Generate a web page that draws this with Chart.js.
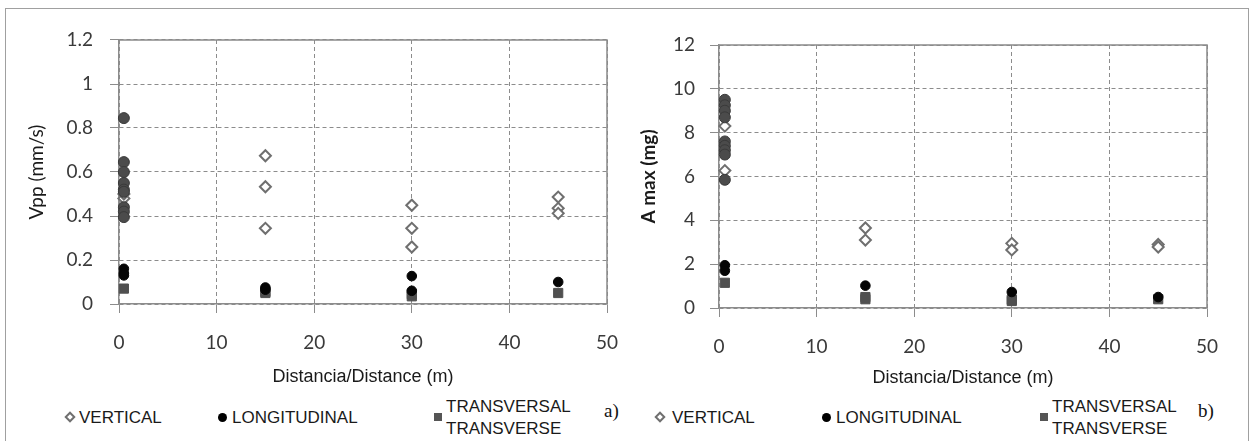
<!DOCTYPE html>
<html><head><meta charset="utf-8">
<script src="https://cdn.jsdelivr.net/npm/chart.js@4/dist/chart.umd.min.js"></script>
<style>
html,body{margin:0;padding:0;background:#fff;width:1249px;height:441px;overflow:hidden;position:relative}
#frame{position:absolute;left:5px;top:8px;width:1244px;height:460px;border:1px solid #a0a0a0;box-sizing:border-box}
.cw{position:absolute;top:0}
.lg{position:absolute;font-family:"Liberation Sans",Arial,sans-serif;font-size:17px;color:#1a1a1a;white-space:nowrap;line-height:22px}
.mk{position:absolute;box-sizing:border-box}
.dia{width:8px;height:8px;border:2px solid #707070;background:#fff;transform:rotate(45deg)}
.cir{width:9px;height:9px;border-radius:50%;background:#000}
.sq{width:8px;height:8px;background:#555}
.tag{position:absolute;font-family:"Liberation Serif","Times New Roman",serif;font-size:19px;color:#111;line-height:20px}
</style></head>
<body>
<div id="frame"></div>
<canvas id="ca" class="cw" width="620" height="395" style="left:0px"></canvas>
<canvas id="cb" class="cw" width="629" height="395" style="left:620px"></canvas>

<div class="mk dia" style="left:66px;top:413px"></div>
<div class="lg" style="left:79px;top:407px">VERTICAL</div>
<div class="mk cir" style="left:218px;top:413px"></div>
<div class="lg" style="left:232px;top:407px">LONGITUDINAL</div>
<div class="mk sq" style="left:434px;top:413px"></div>
<div class="lg" style="left:446px;top:396px">TRANSVERSAL</div>
<div class="lg" style="left:446px;top:418px">TRANSVERSE</div>
<div class="tag" style="left:604px;top:401px">a)</div>

<div class="mk dia" style="left:656px;top:413px"></div>
<div class="lg" style="left:672px;top:407px">VERTICAL</div>
<div class="mk cir" style="left:822px;top:413px"></div>
<div class="lg" style="left:836px;top:407px">LONGITUDINAL</div>
<div class="mk sq" style="left:1040px;top:413px"></div>
<div class="lg" style="left:1052px;top:396px">TRANSVERSAL</div>
<div class="lg" style="left:1052px;top:418px">TRANSVERSE</div>
<div class="tag" style="left:1198px;top:401px">b)</div>

<script>
// ---------- data ----------
const xTickValues = [0, 10, 20, 30, 40, 50];
const yTicksA = ['0', '0.2', '0.4', '0.6', '0.8', '1', '1.2'];
const yTicksB = ['0', '2', '4', '6', '8', '10', '12'];
const seriesNames = ['VERTICAL', 'LONGITUDINAL', 'TRANSVERSAL / TRANSVERSE'];

// chart a) Vpp (mm/s)
const vertA_x  = [0.5, 0.5, 15, 15, 15, 30, 30, 30, 45, 45, 45];
const vertA_y  = [0.48, 0.50, 0.674, 0.533, 0.344, 0.449, 0.344, 0.259, 0.486, 0.435, 0.412];
const longA_x  = [0.5, 0.5, 0.5, 15, 15, 30, 30, 45];
const longA_y  = [0.16, 0.14, 0.13, 0.075, 0.065, 0.127, 0.06, 0.10];
const transA_x = [0.5, 15, 15, 30, 30, 45];
const transA_y = [0.07, 0.055, 0.05, 0.045, 0.035, 0.05];
const nearA_x  = [0.5, 0.5, 0.5, 0.5, 0.5, 0.5, 0.5, 0.5, 0.5];
const nearA_y  = [0.845, 0.645, 0.60, 0.55, 0.52, 0.51, 0.44, 0.42, 0.395];

// chart b) A max (mg)
const vertB_x  = [0.6, 0.6, 15, 15, 30, 30, 45, 45];
const vertB_y  = [8.3, 6.27, 3.65, 3.1, 2.95, 2.65, 2.9, 2.78];
const longB_x  = [0.6, 0.6, 15, 30, 45];
const longB_y  = [1.95, 1.7, 1.02, 0.73, 0.5];
const transB_x = [0.6, 15, 15, 30, 30, 45];
const transB_y = [1.15, 0.5, 0.4, 0.38, 0.32, 0.4];
const nearB_x  = [0.6, 0.6, 0.6, 0.6, 0.6, 0.6, 0.6, 0.6, 0.6];
const nearB_y  = [9.5, 9.25, 9.0, 8.7, 7.6, 7.4, 7.2, 7.0, 5.85];

// ---------- build ----------
const zip = (xs, ys) => xs.map((x, i) => ({x: x, y: ys[i]}));

function datasets(vx, vy, lx, ly, tx, ty, nx, ny) {
  return [
    {label: 'near', data: zip(nx, ny), pointStyle: 'circle', pointRadius: 5.5,
     backgroundColor: '#4b4b4b', borderColor: '#3a3a3a', borderWidth: 1, order: 0, clip: false},
    {label: seriesNames[0], data: zip(vx, vy), pointStyle: 'rectRot', pointRadius: 5.5,
     backgroundColor: '#ffffff', borderColor: '#6f6f6f', borderWidth: 2, order: 1, clip: false},
    {label: seriesNames[1], data: zip(lx, ly), pointStyle: 'circle', pointRadius: 4.8,
     backgroundColor: '#050505', borderColor: '#050505', borderWidth: 1, order: 2, clip: false},
    {label: seriesNames[2], data: zip(tx, ty), pointStyle: 'rect', pointRadius: 6.5,
     backgroundColor: '#505050', borderColor: '#505050', borderWidth: 1, order: 3, clip: false}
  ];
}

const plotBox = {
  id: 'plotBox',
  beforeDatasetsDraw(chart) {
    const a = chart.chartArea, ctx = chart.ctx;
    ctx.save();
    ctx.strokeStyle = '#8a8a8a';
    ctx.lineWidth = 1.5;
    ctx.beginPath();
    ctx.moveTo(a.left, a.top);
    ctx.lineTo(a.right, a.top);
    ctx.lineTo(a.right, a.bottom);
    ctx.stroke();
    ctx.restore();
  }
};

function zeroPad(s) { s.paddingLeft = 0; s.paddingRight = 0; s.paddingTop = 0; s.paddingBottom = 0; }

function makeOptions(c) {
  return {
    responsive: false,
    animation: false,
    devicePixelRatio: 1,
    layout: {padding: {left: 0, top: c.top, right: c.right, bottom: 0}},
    plugins: {legend: {display: false}, tooltip: {enabled: false}},
    scales: {
      x: {
        type: 'linear', min: 0, max: 50,
        afterFit: s => { s.height = c.xh; zeroPad(s); },
        afterBuildTicks: s => { s.ticks = xTickValues.map(v => ({value: v})); },
        ticks: {font: {family: 'Lato', size: 19}, color: '#3a3a3a', padding: 18, maxRotation: 0},
        grid: {color: '#8c8c8c', lineWidth: 1, tickLength: 9, tickColor: '#8c8c8c', tickBorderDash: []},
        border: {display: true, color: '#8c8c8c', width: 1.5, dash: [4, 3]},
        title: {display: true, text: 'Distancia/Distance (m)', color: '#1a1a1a',
                font: {family: 'Liberation Sans', size: 18, lineHeight: 1.2}, padding: {top: 0, bottom: c.xtb}}
      },
      y: {
        type: 'linear', min: 0, max: c.ymax,
        afterFit: s => { s.width = c.yw; zeroPad(s); },
        afterBuildTicks: s => { s.ticks = c.ylabels.map((t, i) => ({value: i * c.ystep})); },
        ticks: {font: {family: 'Lato', size: 19}, color: '#3a3a3a', padding: c.ypad,
                callback: (v, i) => c.ylabels[i]},
        grid: {color: '#8c8c8c', lineWidth: 1, tickLength: 9, tickColor: '#8c8c8c', tickBorderDash: []},
        border: {display: true, color: '#8c8c8c', width: 1.5, dash: [4, 3]},
        title: {display: true, text: c.ytitle, color: '#1a1a1a',
                font: {family: 'Lato', size: 19, weight: c.ybold ? 'bold' : 'normal', lineHeight: 1.2},
                padding: {top: c.ytp, bottom: 0}}
      }
    }
  };
}

new Chart(document.getElementById('ca'), {
  type: 'scatter',
  data: {datasets: datasets(vertA_x, vertA_y, longA_x, longA_y, transA_x, transA_y, nearA_x, nearA_y)},
  options: makeOptions({top: 40, right: 13, xh: 91, yw: 119, ymax: 1.2, ystep: 0.2, ylabels: yTicksA,
                        ypad: 17, ytitle: 'Vpp (mm/s)', ybold: false, ytp: 25, xtb: 7}),
  plugins: [plotBox]
});

new Chart(document.getElementById('cb'), {
  type: 'scatter',
  data: {datasets: datasets(vertB_x, vertB_y, longB_x, longB_y, transB_x, transB_y, nearB_x, nearB_y)},
  options: makeOptions({top: 45, right: 42, xh: 87, yw: 99, ymax: 12, ystep: 2, ylabels: yTicksB,
                        ypad: 15, ytitle: 'A max (mg)', ybold: true, ytp: 17, xtb: 6}),
  plugins: [plotBox]
});
</script>
</body></html>
